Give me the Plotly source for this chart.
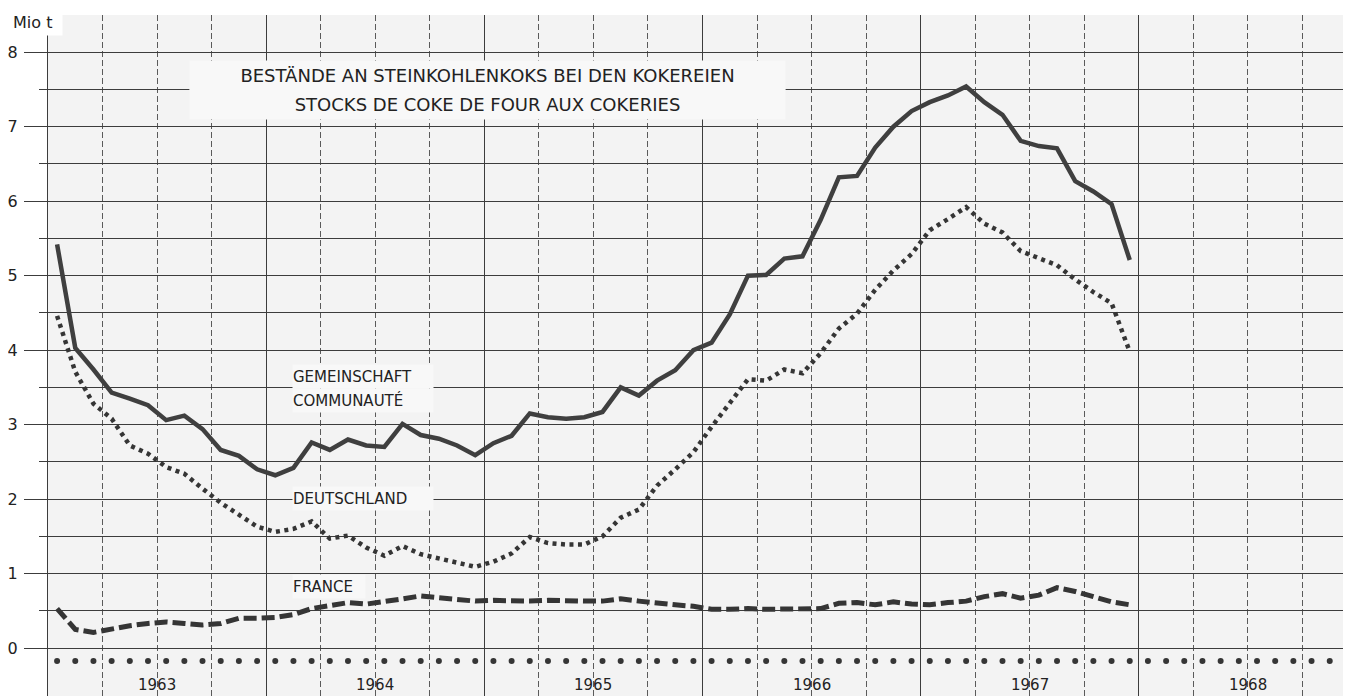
import plotly.graph_objects as go

# ---------------- data ----------------
years = ["1963", "1964", "1965", "1966", "1967", "1968"]
months_per_year = 12

gemeinschaft = [
    5.42, 4.03, 3.74, 3.43, 3.35, 3.26, 3.06, 3.12, 2.94, 2.66, 2.58, 2.40,
    2.32, 2.42, 2.76, 2.66, 2.80, 2.72, 2.70, 3.01, 2.86, 2.81, 2.72, 2.59,
    2.75, 2.85, 3.15, 3.10, 3.08, 3.10, 3.17, 3.50, 3.39, 3.59, 3.73, 4.00,
    4.10, 4.48, 5.00, 5.01, 5.23, 5.26, 5.75, 6.32, 6.34, 6.72, 7.00, 7.21,
    7.33, 7.42, 7.54, 7.33, 7.16, 6.81, 6.74, 6.71, 6.27, 6.13, 5.96, 5.21,
]
deutschland = [
    4.46, 3.71, 3.28, 3.08, 2.72, 2.61, 2.43, 2.34, 2.14, 1.95, 1.79, 1.63,
    1.56, 1.60, 1.70, 1.47, 1.51, 1.35, 1.24, 1.37, 1.26, 1.20, 1.15, 1.09,
    1.16, 1.27, 1.49, 1.41, 1.39, 1.39, 1.50, 1.75, 1.86, 2.18, 2.40, 2.63,
    2.97, 3.28, 3.61, 3.59, 3.74, 3.69, 3.96, 4.29, 4.49, 4.81, 5.07, 5.29,
    5.61, 5.76, 5.92, 5.70, 5.58, 5.33, 5.23, 5.14, 4.95, 4.78, 4.63, 3.98,
]
france = [
    0.53, 0.25, 0.21, 0.26, 0.30, 0.33, 0.35, 0.33, 0.31, 0.33, 0.40, 0.40,
    0.41, 0.45, 0.53, 0.57, 0.61, 0.59, 0.62, 0.66, 0.70, 0.68, 0.65, 0.63,
    0.64, 0.63, 0.63, 0.64, 0.63, 0.63, 0.63, 0.66, 0.63, 0.60, 0.58, 0.56,
    0.52, 0.52, 0.53, 0.52, 0.52, 0.52, 0.53, 0.60, 0.61, 0.58, 0.62, 0.59,
    0.58, 0.61, 0.63, 0.69, 0.73, 0.67, 0.71, 0.81, 0.76, 0.69, 0.62, 0.58,
]
y_ticks = [0, 1, 2, 3, 4, 5, 6, 7, 8]

title_de = "BESTÄNDE AN STEINKOHLENKOKS BEI DEN KOKEREIEN"
title_fr = "STOCKS DE COKE DE FOUR AUX COKERIES"
label_gem = "GEMEINSCHAFT"
label_com = "COMMUNAUTÉ"
label_deu = "DEUTSCHLAND"
label_fra = "FRANCE"
unit_label = "Mio t"

# ---------------- derived ----------------
n_months = len(gemeinschaft)
months = list(range(n_months))
all_months = list(range(len(years) * months_per_year))
year_bounds = [k * months_per_year - 0.5 for k in range(len(years) + 1)]
quarter_lines = [k * months_per_year - 0.5 + q * 3 for k in range(len(years)) for q in (1, 2, 3)]
half_ticks = [t + 0.5 for t in y_ticks]
month_dot_level = -0.175

INK = "#353535"
GRID = "#3c3c3c"
FONT = "DejaVu Sans"
TXT = "#222222"
BOXBG = "#f8f8f8"

fig = go.Figure()

fig.add_trace(go.Scatter(
    x=all_months, y=[month_dot_level] * len(all_months), mode="markers",
    marker=dict(size=6, color=INK), hoverinfo="skip", showlegend=False))

fig.add_trace(go.Scatter(
    x=months, y=gemeinschaft, mode="lines", name=label_gem,
    line=dict(color="#3f3f3f", width=4.5), showlegend=False))
fig.add_trace(go.Scatter(
    x=months, y=deutschland, mode="lines", name=label_deu,
    line=dict(color=INK, width=4.5, dash="4px,4.5px"), showlegend=False))
fig.add_trace(go.Scatter(
    x=months, y=france, mode="lines", name=label_fra,
    line=dict(color=INK, width=5, dash="13px,5px"), showlegend=False))

annotations = []
# title lines (boxes hide grid lines)
for txt, yv in ((title_de, 7.69), (title_fr, 7.30)):
    annotations.append(dict(
        x=23.66, y=yv, xref="x", yref="y", text=txt, showarrow=False,
        font=dict(family=FONT, size=18, color=TXT),
        bgcolor=BOXBG, width=595, height=29, borderpad=0))

for txt, yv in ((label_gem, 3.64), (label_com, 3.33), (label_deu, 2.01), (label_fra, 0.82)):
    annotations.append(dict(
        x=12.92, y=yv, xref="x", yref="y", text=txt, showarrow=False,
        xanchor="left", align="left",
        font=dict(family=FONT, size=15, color=TXT),
        bgcolor=BOXBG, width=140 if txt != label_fra else 72, height=23, borderpad=0))

for k, yr in enumerate(years):
    annotations.append(dict(
        x=k * months_per_year + 5.5, y=-0.5, xref="x", yref="y", text=yr,
        showarrow=False, font=dict(family=FONT, size=15, color=TXT)))

annotations.append(dict(
    x=-0.0284, y=0.99, xref="paper", yref="paper", text=unit_label,
    xanchor="left", yanchor="middle", showarrow=False,
    bgcolor="#ffffff", width=48, height=24, align="left",
    font=dict(family=FONT, size=16, color=TXT)))

# Page body has an 8px default margin: figure is sized so the plot area
# spans pixels x 48..1351 and y 15..696 of the window.
fig.update_layout(
    width=1343, height=688, autosize=False,
    margin=dict(l=40, r=0, t=7, b=0),
    paper_bgcolor="#ffffff", plot_bgcolor="#f3f3f3",
    annotations=annotations,
    xaxis=dict(
        range=[-0.5, 71.17], tickvals=year_bounds, showticklabels=False, ticks="",
        showgrid=True, gridcolor=GRID, gridwidth=1, zeroline=False, showline=False,
        minor=dict(tickvals=quarter_lines, showgrid=True, gridcolor="#5a5a5a",
                   gridwidth=1, griddash="6px,3px", ticks=""),
    ),
    yaxis=dict(
        range=[-0.644, 8.5], tickvals=y_ticks, ticktext=[str(t) for t in y_ticks],
        ticks="outside", ticklen=23, tickcolor=GRID, tickwidth=1,
        ticklabelstandoff=3,
        tickfont=dict(family=FONT, size=16, color=TXT),
        showgrid=True, gridcolor=GRID, gridwidth=1, zeroline=False,
        showline=True, linecolor=GRID, linewidth=1,
        minor=dict(tickvals=half_ticks, ticks="outside", ticklen=8, tickcolor=GRID,
                   showgrid=True, gridcolor=GRID, gridwidth=1),
    ),
)

fig.write_html("out.html")
